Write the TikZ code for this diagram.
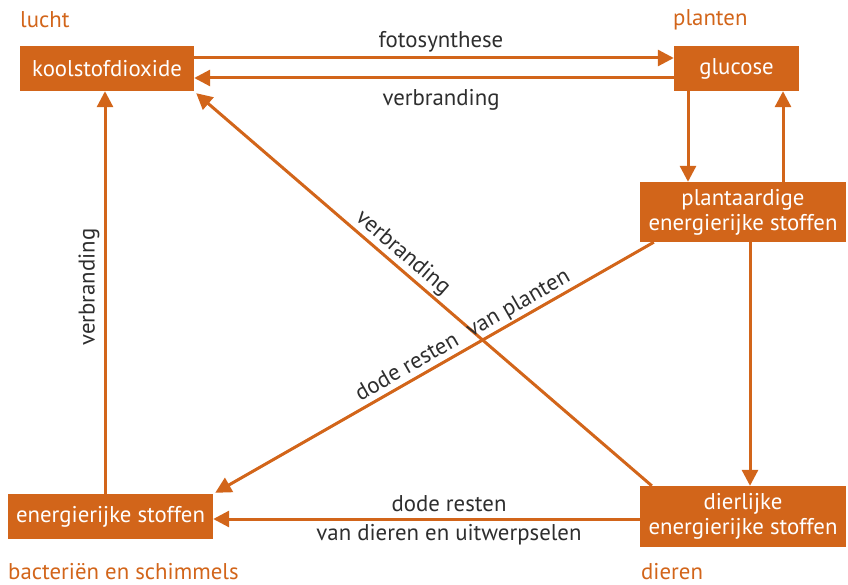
\documentclass[tikz,border=0pt]{standalone}
\usepackage{fontspec}
\setmainfont{PT Sans}
\usetikzlibrary{arrows.meta,calc}
\definecolor{org}{HTML}{D2651A}
\definecolor{txt}{HTML}{2E2E2E}
\begin{document}
\begin{tikzpicture}[x=1pt,y=-1pt,
  box/.style={fill=org,text=white,inner sep=0pt,align=center,font=\fontsize{22.8}{25}\selectfont},
  lbl/.style={text=txt,font=\fontsize{22.8}{25}\selectfont,inner sep=1.5pt},
  grp/.style={text=org,font=\fontsize{22.8}{25}\selectfont,inner sep=0pt,anchor=west},
  arr/.style={draw=org,line width=3pt,-{Triangle[length=16pt,width=16pt]}},
  ln/.style={draw=org,line width=3pt}]
\useasboundingbox (0,0) rectangle (848,585);
\node[box,minimum width=174pt,minimum height=45pt] (kool) at (107,68.5) {koolstofdioxide};
\node[box,minimum width=125pt,minimum height=45pt] (gluc) at (736.5,68.5) {glucose};
\node[box,minimum width=206pt,minimum height=60pt] (plant) at (743,212) {plantaardige\\energierijke stoffen};
\node[box,minimum width=206pt,minimum height=61pt] (dier) at (743,516.5) {dierlijke\\energierijke stoffen};
\node[box,minimum width=205pt,minimum height=45pt] (energ) at (110.5,516.5) {energierijke stoffen};
\node[grp] (lucht) at (20,20) {lucht};
\node[grp] (planten) at (673,20) {planten};
\node[grp] (dieren) at (641,572) {dieren};
\node[grp] (bact) at (8,572) {bacteriën en schimmels};
% connectors
\draw[arr] (kool.east |- 0,58) -- (gluc.west |- 0,58);
\draw[arr] (gluc.west |- 0,78) -- (kool.east |- 0,78);
\draw[arr] (gluc.south -| 688,0) -- (plant.north -| 688,0);
\draw[arr] (plant.north -| 783,0) -- (gluc.south -| 783,0);
\draw[arr] (plant.south -| 750,0) -- (dier.north -| 750,0);
\draw[arr] (dier.west |- 0,519) -- (energ.east |- 0,519);
\draw[arr] (energ.north -| 105,0) -- (kool.south -| 105,0);
\draw[arr] ($(dier.north west)+(12,0)$) -- ($(kool.south east)+(2,2)$)
  node[lbl,sloped,above,pos=0.566] (l1) {verbranding};
\draw[arr] ($(plant.south west)+(14,0)$) -- ($(energ.north east)+(2,-1)$)
  node[lbl,sloped,above,pos=0.42] (l2) {dode resten\hspace{0.3em} van planten};
% labels
\node[lbl] (foto) at (441,42) {fotosynthese};
\node[lbl] (verb1) at (441,100) {verbranding};
\node[lbl,rotate=90] (verb2) at (89,287) {verbranding};
\node[lbl] (dode) at (449,504) {dode resten};
\node[lbl] (van) at (449,535) {van dieren en uitwerpselen};
\end{tikzpicture}
\end{document}
